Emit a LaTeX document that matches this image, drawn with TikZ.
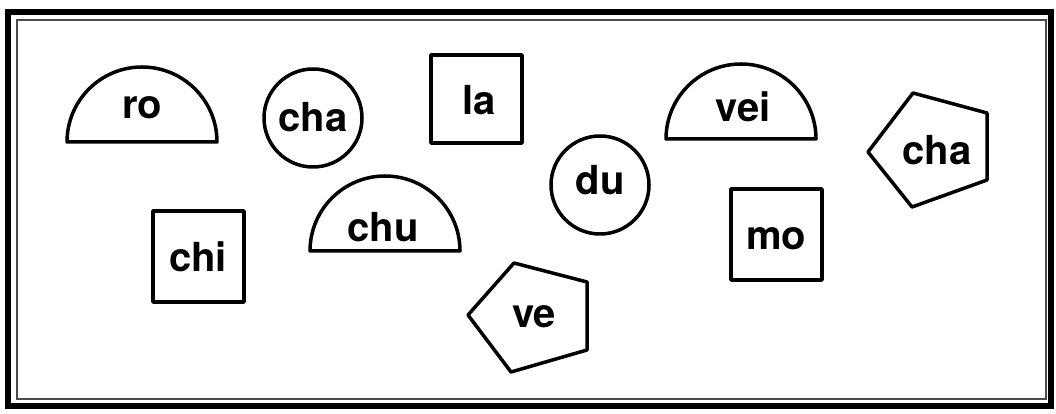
\documentclass[tikz,border=0pt]{standalone}
\usepackage{fontspec}
\setmainfont{TeX Gyre Heros}
\begin{document}
\begin{tikzpicture}[x=1pt,y=1pt,
  shp/.style={draw=black,line width=3.5pt,line join=round},
  lbl/.style={anchor=base,inner sep=0pt,font=\fontsize{40pt}{48pt}\selectfont\bfseries}]
\useasboundingbox (0,0) rectangle (1056,414);
% frame
\draw[line width=6pt] (8,8) rectangle (1051,402);
\draw[line width=1.5pt,black!70] (17,15) rectangle (1046,394);
% half discs
\draw[shp] (67,272) arc[start angle=180,end angle=0,radius=75pt] -- cycle;
\draw[shp] (666,275) arc[start angle=180,end angle=0,radius=75pt] -- cycle;
\draw[shp] (310,163) arc[start angle=180,end angle=0,radius=75pt] -- cycle;
% circles
\draw[shp] (313,296) circle[radius=49pt];
\draw[shp] (600,229) circle[radius=49pt];
% squares
\draw[shp] (431,271) rectangle (522,359);
\draw[shp] (153,112) rectangle (244,203);
\draw[shp] (731,134) rectangle (822,225);
% pentagons
\draw[shp] (913,321) -- (987,301) -- (987,234) -- (912,207) -- (868,262) -- cycle;
\draw[shp] (514,151) -- (587,132) -- (587,64) -- (511,42) -- (468,99) -- cycle;
% labels
\node[lbl] (ro) at (142,295) {ro};
\node[lbl] (cha1) at (313,282) {cha};
\node[lbl] (la) at (479,299) {la};
\node[lbl] (vei) at (743,292) {vei};
\node[lbl] (cha2) at (937,249) {cha};
\node[lbl] (du) at (600,219) {du};
\node[lbl] (chi) at (198,142) {chi};
\node[lbl] (chu) at (383,172) {chu};
\node[lbl] (mo) at (776,164) {mo};
\node[lbl] (ve) at (534,86) {ve};
\end{tikzpicture}
\end{document}
